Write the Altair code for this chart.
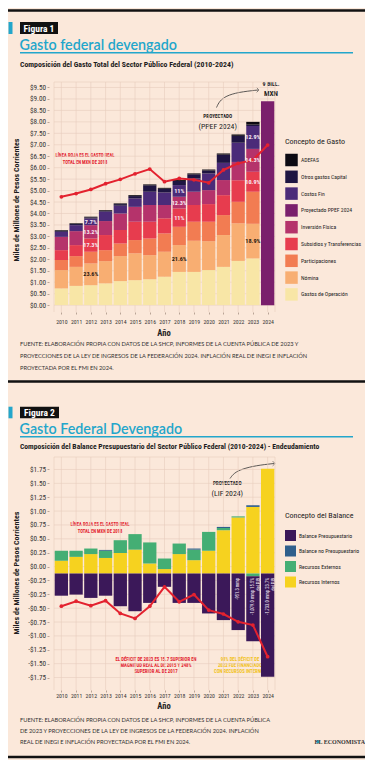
import altair as alt
import pandas as pd

# ======================= DATA : Figura 1 =======================
years = list(range(2010, 2025))
years_hist = list(range(2010, 2024))

gastos_operacion = [0.73, 0.84, 0.87, 0.95, 1.05, 1.09, 1.13, 1.24, 1.45, 1.45, 1.53, 1.67, 1.93, 2.04]
nomina = [0.80, 0.83, 0.95, 0.97, 1.09, 1.17, 1.05, 1.09, 1.17, 1.36, 1.26, 1.39, 1.64, 1.51]
participaciones = [0.44, 0.47, 0.51, 0.48, 0.55, 0.58, 0.73, 0.80, 0.80, 0.83, 0.85, 0.87, 0.94, 1.40]
subsidios = [0.43, 0.48, 0.58, 0.66, 0.59, 0.80, 0.73, 0.66, 0.80, 0.73, 0.77, 0.87, 0.94, 0.87]
inversion = [0.58, 0.61, 0.58, 0.61, 0.72, 0.65, 0.73, 0.58, 0.51, 0.58, 0.61, 0.66, 0.80, 1.00]
costos_fin = [0.22, 0.26, 0.29, 0.41, 0.34, 0.37, 0.58, 0.55, 0.51, 0.58, 0.73, 0.75, 0.84, 1.00]
otros_capital = [0.04, 0.05, 0.05, 0.04, 0.07, 0.10, 0.28, 0.16, 0.18, 0.18, 0.13, 0.36, 0.30, 0.06]
adefas = [0.03, 0.03, 0.03, 0.03, 0.03, 0.04, 0.04, 0.04, 0.04, 0.04, 0.04, 0.05, 0.06, 0.12]
proyectado_2024 = 8.9
gasto_real_2018 = [4.73, 4.87, 5.05, 5.30, 5.49, 5.73, 5.94, 5.39, 5.53, 5.47, 5.34, 5.90, 6.19, 6.33, 6.99]

gasto_cats = ["Gastos de Operación", "Nómina", "Participaciones", "Subsidios y Transferencias",
              "Inversión Física", "Proyectado PPEF 2024", "Costos Fin", "Otros gastos Capital", "ADEFAS"]

pct_years = [2012] * 4 + [2018] * 4 + [2023] * 4
pct_cats = ["Costos Fin", "Inversión Física", "Subsidios y Transferencias", "Nómina"] * 3
pct_text = ["7.7%", "13.2%", "17.3%", "23.6%", "11%", "12.3%", "11%", "21.6%",
            "12.9%", "14.3%", "10.9%", "18.9%"]

y1_ticks = [i * 0.5 for i in range(20)]

# ======================= DATA : Figura 2 =======================
recursos_internos = [0.23, 0.30, 0.35, 0.28, 0.37, 0.43, 0.18, 0.08, 0.35, 0.24, 0.41, 0.78, 1.01, 1.20, 1.89]
recursos_externos = [0.18, 0.11, 0.10, 0.13, 0.23, 0.28, 0.38, 0.19, 0.19, 0.19, 0.34, 0.04, 0.02, -0.05, 0.0]
balance_no_presup = [0.0, 0.0, 0.0, 0.015, 0.0, 0.0, 0.0, 0.0, 0.0, 0.02, 0.0, 0.02, 0.0, 0.03, 0.0]
balance_presup = [-0.40, -0.38, -0.44, -0.40, -0.59, -0.68, -0.53, -0.24, -0.53, -0.53, -0.72, -0.84, -1.02, -1.17, -1.86]
gasto_real_2 = [-0.59, -0.50, -0.58, -0.49, -0.72, -0.81, -0.59, -0.24, -0.51, -0.38, -0.66, -0.73, -0.87, -0.93, -1.50]

balance_cats = ["Balance Presupuestario", "Balance no Presupuestario", "Recursos Externos", "Recursos Internos"]

nota_years = [2022, 2023, 2024]
nota_text = ["-951.3 mmp", "-1,079.0 mmp 15.5%\ndel PIB", "-1,733.0 mmp 23.7%\ndel PIB"]

y2_tick_values = [1.875 - 0.25 * i for i in range(16)]
y2_tick_labels = ["$1.75", "$1.50", "$1.25", "$1.00", "$0.75", "$0.50", "$0.25", "$0.00",
                  "-$0.25", "-$0.25", "-$0.50", "-$0.75", "-$1.00", "-$1.25", "-$1.50", "-$1.75"]

# ======================= TABLES =======================
series1 = [("Gastos de Operación", gastos_operacion), ("Nómina", nomina),
           ("Participaciones", participaciones), ("Subsidios y Transferencias", subsidios),
           ("Inversión Física", inversion), ("Costos Fin", costos_fin),
           ("Otros gastos Capital", otros_capital), ("ADEFAS", adefas)]
rows1 = []
for i, yr in enumerate(years_hist):
    base = 0.0
    for cat, vals in series1:
        v = vals[i]
        rows1.append(dict(year=yr, cat=cat, y0=base, y1=base + v, mid=base + v / 2))
        base += v
rows1.append(dict(year=2024, cat="Proyectado PPEF 2024", y0=0.0, y1=proyectado_2024, mid=proyectado_2024 / 2))
df1 = pd.DataFrame(rows1)

df_pct = pd.DataFrame(dict(year=pct_years, cat=pct_cats, label=pct_text)).merge(df1, on=["year", "cat"])
df_real1 = pd.DataFrame(dict(year=years, real=gasto_real_2018))

series2 = [("Recursos Internos", recursos_internos), ("Recursos Externos", recursos_externos),
           ("Balance no Presupuestario", balance_no_presup), ("Balance Presupuestario", balance_presup)]
rows2 = []
for i, yr in enumerate(years):
    pos, neg = 0.0, 0.0
    for cat, vals in series2:
        v = vals[i]
        if v == 0:
            continue
        if v > 0:
            rows2.append(dict(year=yr, cat=cat, y0=pos, y1=pos + v)); pos += v
        else:
            rows2.append(dict(year=yr, cat=cat, y0=neg, y1=neg + v)); neg += v
df2 = pd.DataFrame(rows2)
df_real2 = pd.DataFrame(dict(year=years, real=gasto_real_2))
df_nota = pd.DataFrame(dict(year=nota_years, nota=nota_text))

# ======================= STYLE =======================
W, H = 357, 752
BG = "#fbe8da"
GRID = "#e7cdbd"
RED = "#e3222f"
CYAN = "#23a6cb"
NARROW = "Roboto Condensed, Liberation Sans Narrow, Arial Narrow, sans-serif"
TITLEF = "Lato, Open Sans, sans-serif"
FOOTF = "Lato, Open Sans, sans-serif"

gasto_colors = {"ADEFAS": "#0c0a12", "Otros gastos Capital": "#1e1542", "Costos Fin": "#4b2b79",
                "Proyectado PPEF 2024": "#7a1f6c", "Inversión Física": "#b5336b",
                "Subsidios y Transferencias": "#e73c4e", "Participaciones": "#f27c52",
                "Nómina": "#f8ae72", "Gastos de Operación": "#f8e6a6"}
balance_colors = {"Balance Presupuestario": "#3b1859", "Balance no Presupuestario": "#2f5f8c",
                  "Recursos Externos": "#44ae74", "Recursos Internos": "#f6d21f"}

legend_order1 = list(reversed(gasto_cats))
X_RANGE = [41, 272]
Y1_RANGE, Y1_DOM = [304, 74], [-0.3, 9.74]
Y2_RANGE, Y2_DOM = [682, 449], [-2.1, 2.1]

DUMMY = pd.DataFrame({"k": [0]})


def txt(x, y, s, size, color="#222", font=NARROW, weight="normal", align="left",
        baseline="middle", angle=0, line_height=None):
    kw = dict(text=s, fontSize=size, color=color, font=font, fontWeight=weight,
              align=align, baseline=baseline, angle=angle, lineBreak="\n")
    if line_height:
        kw["lineHeight"] = line_height
    return alt.Chart(DUMMY).mark_text(**kw).encode(x=alt.value(x), y=alt.value(y))


def rect(x, x2, y, y2, color):
    return alt.Chart(DUMMY).mark_rect(color=color).encode(
        x=alt.value(x), x2=alt.value(x2), y=alt.value(y), y2=alt.value(y2))


def hrule(x, x2, y, color, width):
    return alt.Chart(DUMMY).mark_rule(color=color, strokeWidth=width).encode(
        x=alt.value(x), x2=alt.value(x2), y=alt.value(y))


def arrow(xs, ys, hx, hy):
    line = alt.Chart(pd.DataFrame({"ax": xs, "ay": ys})).mark_line(
        interpolate="basis", color="#333", strokeWidth=0.8).encode(
        x=alt.X("ax:Q", scale=None), y=alt.Y("ay:Q", scale=None))
    head = alt.Chart(DUMMY).mark_point(shape="M-1,-1L0,0L-1,1", filled=False, size=22,
                                       color="#333", strokeWidth=0.8).encode(
        x=alt.value(hx), y=alt.value(hy))
    return [line, head]


def x_axis(y_pos, pad):
    return alt.Axis(orient="bottom", offset=y_pos - H, values=years, tickCount=100, format="d",
                    grid=False, domain=False, tickSize=2, tickColor="#b9a496", labelFont=NARROW,
                    labelFontSize=5.8, labelColor="#333", labelPadding=pad, labelOverlap=False,
                    title=None)


def y_axis(values, **kw):
    return alt.Axis(orient="left", offset=-X_RANGE[0], values=values, tickCount=100, grid=False,
                    domain=False, tickSize=2, tickColor="#b9a496", labelFont=NARROW,
                    labelFontSize=7.2, labelColor="#333", labelPadding=1.5, labelOverlap=False,
                    title=None, **kw)


def legend(title, ly, sym, rowpad, tpad):
    return alt.Legend(orient="none", legendX=277, legendY=ly, title=title, titleFont=NARROW,
                      titleFontSize=8, titleFontWeight="normal", titleColor="#222",
                      titlePadding=tpad, padding=0, symbolType="square", symbolSize=sym,
                      symbolStrokeWidth=0, symbolOpacity=1, labelFont=NARROW, labelFontSize=5.7,
                      labelColor="#222", rowPadding=rowpad, labelOffset=3, labelLimit=80)


xs = alt.Scale(domain=[2009.5, 2024.5], range=X_RANGE, nice=False, zero=False)
ys1 = alt.Scale(domain=Y1_DOM, range=Y1_RANGE, nice=False, zero=False)
ys2 = alt.Scale(domain=Y2_DOM, range=Y2_RANGE, nice=False, zero=False)
grid_x = pd.DataFrame({"gx": [2009.5] + years + [2024.5]})

# ======================= FIGURA 1 =======================
vgrid1 = alt.Chart(grid_x).mark_rule(color=GRID, strokeWidth=0.6).encode(
    x=alt.X("gx:Q", scale=xs, title=None), y=alt.datum(Y1_DOM[0]), y2=alt.datum(Y1_DOM[1]))
hgrid1 = alt.Chart(pd.DataFrame({"gy": y1_ticks + [Y1_DOM[1]]})).mark_rule(color=GRID, strokeWidth=0.6).encode(
    y=alt.Y("gy:Q", scale=ys1, title=None), x=alt.datum(2009.5), x2=alt.datum(2024.5))
bars1 = alt.Chart(df1).mark_bar(size=13.3).encode(
    x=alt.X("year:Q", scale=xs, axis=x_axis(Y1_RANGE[0], 4), title=None),
    y=alt.Y("y1:Q", scale=ys1, title=None, axis=y_axis(y1_ticks, format="$.2f")),
    y2="y0:Q",
    color=alt.Color("cat:N", scale=alt.Scale(domain=legend_order1,
                                             range=[gasto_colors[c] for c in legend_order1]),
                    legend=legend("Concepto de Gasto", 129.5, 156, 3.8, 8)))
line1 = alt.Chart(df_real1).mark_line(color=RED, strokeWidth=2).encode(
    x=alt.X("year:Q", scale=xs, title=None), y=alt.Y("real:Q", scale=ys1, title=None))
pts1 = alt.Chart(df_real1).mark_circle(color=RED, size=14, opacity=1).encode(
    x=alt.X("year:Q", scale=xs, title=None), y=alt.Y("real:Q", scale=ys1, title=None))
pct1 = alt.Chart(df_pct).mark_text(font=NARROW, fontSize=6.2, fontWeight="bold").encode(
    x=alt.X("year:Q", scale=xs, title=None), y=alt.Y("mid:Q", scale=ys1, title=None),
    text="label:N",
    color=alt.condition(alt.datum.cat == "Nómina", alt.value("#2b1a12"), alt.value("#f7e9f3")))
fig1 = alt.layer(vgrid1, hgrid1, bars1, line1, pts1, pct1)

# ======================= FIGURA 2 =======================
label_expr = "[" + ",".join("'%s'" % s for s in y2_tick_labels) + "][indexof([" + \
             ",".join(repr(v) for v in y2_tick_values) + "], datum.value)]"
vgrid2 = alt.Chart(grid_x).mark_rule(color=GRID, strokeWidth=0.6).encode(
    x=alt.X("gx:Q", scale=xs, title=None), y=alt.datum(Y2_DOM[0]), y2=alt.datum(Y2_DOM[1]))
hgrid2 = alt.Chart(pd.DataFrame({"gy": y2_tick_values + [Y2_DOM[1]]})).mark_rule(color=GRID, strokeWidth=0.6).encode(
    y=alt.Y("gy:Q", scale=ys2, title=None), x=alt.datum(2009.5), x2=alt.datum(2024.5))
bars2 = alt.Chart(df2).mark_bar(size=13.3).encode(
    x=alt.X("year:Q", scale=xs, axis=x_axis(Y2_RANGE[0], 0.5), title=None),
    y=alt.Y("y1:Q", scale=ys2, title=None, axis=y_axis(y2_tick_values, labelExpr=label_expr)),
    y2="y0:Q",
    color=alt.Color("cat:N", scale=alt.Scale(domain=balance_cats,
                                             range=[balance_colors[c] for c in balance_cats]),
                    legend=legend("Concepto del Balance", 504, 121, 4.5, 10)))
line2 = alt.Chart(df_real2).mark_line(color=RED, strokeWidth=2).encode(
    x=alt.X("year:Q", scale=xs, title=None), y=alt.Y("real:Q", scale=ys2, title=None))
pts2 = alt.Chart(df_real2).mark_circle(color=RED, size=14, opacity=1).encode(
    x=alt.X("year:Q", scale=xs, title=None), y=alt.Y("real:Q", scale=ys2, title=None))
nota2 = alt.Chart(df_nota).mark_text(font=NARROW, fontSize=4.6, color="#f3eaf5", angle=270,
                                     align="right", baseline="middle", lineBreak="\n").encode(
    x=alt.X("year:Q", scale=xs, title=None), y=alt.datum(-0.08), text="nota:N")
fig2 = alt.layer(vgrid2, hgrid2, bars2, line2, pts2, nota2)

# ======================= DECORATIONS =======================
footer1 = ["FUENTE: ELABORACIÓN PROPIA CON DATOS DE LA SHCP, INFORMES DE LA CUENTA PÚBLICA DE 2023 Y",
           "PROYECCIONES DE LA LEY DE INGRESOS DE LA FEDERACIÓN 2024. INFLACIÓN REAL DE INEGI E INFLACIÓN",
           "PROYECTADA POR EL FMI EN 2024."]
footer2 = ["FUENTE: ELABORACIÓN PROPIA CON DATOS DE LA SHCP, INFORMES DE LA CUENTA PÚBLICA",
           "DE 2023 Y PROYECCIONES DE LA LEY DE INGRESOS DE LA FEDERACIÓN 2024. INFLACIÓN",
           "REAL DE INEGI E INFLACIÓN PROYECTADA POR EL FMI EN 2024."]

deco = [
    hrule(0, W, 2.5, "#111", 2.5),
    rect(0.5, 4.5, 14, 26, CYAN), rect(12, 50, 14, 26, "#111"),
    txt(31, 20.5, "Figura 1", 9.5, "#fff", NARROW, "bold", "center"),
    txt(11.5, 41.5, "Gasto federal devengado", 14.3, CYAN, TITLEF, 600, baseline="alphabetic"),
    hrule(12, 345, 44.8, CYAN, 1.5),
    txt(12, 56.7, "Composición del Gasto Total del Sector Público Federal (2010-2024)", 7.8,
        "#1d1d1d", NARROW, "bold"),
    txt(9, 192, "Miles de Millones de Pesos Corrientes", 8, "#1d1d1d", NARROW, "bold", "center", angle=270),
    txt(156, 324.5, "Año", 8.5, "#1d1d1d", NARROW, "bold", "center"),
    txt(77, 148, "LÍNEA ROJA ES EL GASTO REAL\nTOTAL EN MXN DE 2018", 4.6, RED, NARROW, "bold",
        "center", line_height=6.5),
    txt(209.7, 107.7, "PROYECTADO", 5.2, "#222", NARROW, "bold", "center"),
    txt(209.7, 118.7, "(PPEF 2024)", 7.8, "#222", NARROW, "normal", "center"),
    txt(263, 76, "9 BILL.", 6, "#222", NARROW, "bold", "center"),
    txt(263, 86, "MXN", 7.2, "#222", NARROW, "bold", "center"),
    *arrow([208.5, 211.5, 218, 230, 250], [99.5, 93, 88, 84.2, 82], 251, 82),
    txt(12, 336.3, footer1[0], 5.7, "#333", FOOTF),
    txt(12, 348, footer1[1], 5.7, "#333", FOOTF),
    txt(12, 359.5, footer1[2], 5.7, "#333", FOOTF),
    hrule(0, W, 373.5, "#111", 2.5),
    rect(0.5, 4.5, 398.7, 410.3, CYAN), rect(12, 51, 398.7, 410.3, "#111"),
    txt(31.5, 404.8, "Figura 2", 9.5, "#fff", NARROW, "bold", "center"),
    txt(11.5, 425.5, "Gasto Federal Devengado", 14.3, CYAN, TITLEF, 600, baseline="alphabetic"),
    hrule(12, 345, 428.7, CYAN, 1.5),
    txt(12, 438.7, "Composición del Balance Presupuestario del Sector Público Federal (2010-2024) -  Endeudamiento",
        7.6, "#1d1d1d", NARROW, "bold"),
    txt(9, 565, "Miles de Millones de Pesos Corrientes", 8, "#1d1d1d", NARROW, "bold", "center", angle=270),
    txt(156, 697.5, "Año", 8.5, "#1d1d1d", NARROW, "bold", "center"),
    txt(92, 517, "LÍNEA ROJA ES EL GASTO REAL\nTOTAL EN MXN DE 2018", 4.6, RED, NARROW, "bold",
        "center", line_height=6.5),
    txt(219.3, 475.3, "PROYECTADO", 5.2, "#222", NARROW, "bold", "center"),
    txt(219.3, 485.5, "(LIF 2024)", 7.8, "#222", NARROW, "normal", "center"),
    *arrow([222, 226, 234, 248, 266], [470.5, 465, 461, 457.5, 455.5], 267, 455.5),
    txt(148, 651.5, "EL DÉFICIT DE 2023 ES 15.7 SUPERIOR EN\nMAGNITUD REAL AL DE 2015 Y 248%\nSUPERIOR AL DE 2017",
        4.8, RED, NARROW, "bold", "center", line_height=6.3),
    txt(232, 651.5, "98% DEL DÉFICIT DE\n2022 FUE FINANCIADO\nCON RECURSOS INTERNOS",
        4.8, "#f2c21a", NARROW, "bold", "center", line_height=6.3),
    txt(12, 712, footer2[0], 5.7, "#333", FOOTF),
    txt(12, 722.7, footer2[1], 5.7, "#333", FOOTF),
    txt(12, 733.7, footer2[2], 5.7, "#333", FOOTF),
    alt.Chart(DUMMY).mark_circle(color=CYAN, size=10, opacity=1).encode(x=alt.value(310), y=alt.value(733.7)),
    txt(357, 733.9, "EL ECONOMISTA", 6, "#333", "Liberation Serif, DejaVu Serif, serif", "bold", "right"),
    hrule(0, W, 749, "#111", 2.5),
]

chart = alt.layer(*deco, fig1, fig2).resolve_scale(
    x="independent", y="independent", color="independent"
).properties(
    width=W, height=H, padding=0, background=BG,
    autosize=alt.AutoSizeParams(type="none"),
).configure_view(stroke=None)

chart.save("out.html", embed_options={"renderer": "svg", "actions": False})
